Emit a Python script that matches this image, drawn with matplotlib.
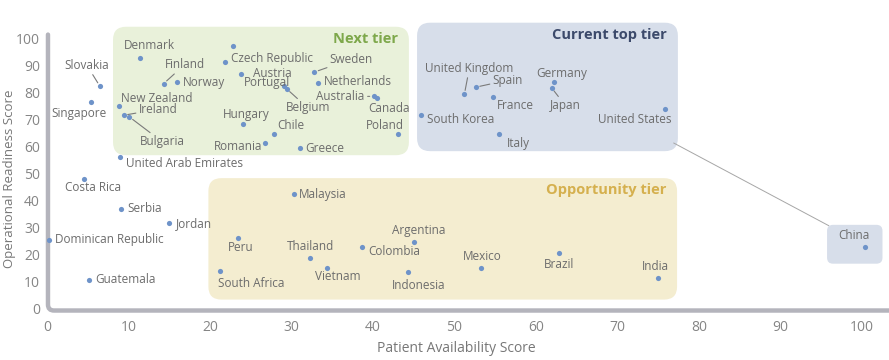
import matplotlib.pyplot as plt
from matplotlib.patches import FancyBboxPatch, PathPatch
from matplotlib.path import Path

plt.rcParams['font.family'] = ['Open Sans', 'DejaVu Sans']

# Data
countries = [
    "Slovakia", "Singapore", "Denmark", "Finland", "Norway", "New Zealand",
    "Ireland", "Bulgaria", "United Arab Emirates", "Czech Republic", "",
    "Austria", "Portugal", "Belgium", "Sweden", "Netherlands", "Australia",
    "Canada", "Hungary", "Chile", "Romania", "Greece", "Poland",
    "United Kingdom", "Spain", "France", "Germany", "Japan", "South Korea",
    "Italy", "United States", "Costa Rica", "Serbia", "Jordan",
    "Dominican Republic", "Guatemala", "Malaysia", "Peru", "South Africa",
    "Thailand", "Vietnam", "Colombia", "Argentina", "Indonesia", "Mexico",
    "Brazil", "India", "China",
]
patient = [
    6.5, 5.4, 11.4, 14.3, 16.0, 8.8,
    9.4, 10.1, 9.0, 21.8, 22.8,
    23.8, 29.1, 29.4, 32.8, 33.3, 40.1,
    40.5, 24.1, 27.8, 26.8, 31.0, 43.1,
    51.2, 52.6, 54.7, 62.2, 61.9, 45.9,
    55.4, 75.8, 4.5, 9.1, 15.0,
    0.3, 5.1, 30.3, 23.4, 21.2,
    32.3, 34.3, 38.7, 45.0, 44.3, 53.3,
    62.8, 74.9, 100.4,
]
readiness = [
    82.3, 76.5, 92.9, 83.3, 84.0, 75.0,
    71.6, 71.0, 56.0, 91.3, 97.4,
    86.9, 82.3, 81.4, 87.6, 83.5, 78.6,
    78.0, 68.5, 64.6, 61.5, 59.3, 64.6,
    79.3, 82.0, 78.3, 83.9, 81.8, 71.6,
    64.5, 74.1, 48.0, 36.8, 31.6,
    25.5, 10.7, 42.3, 26.3, 13.8,
    18.8, 15.1, 22.9, 24.8, 13.4, 15.1,
    20.5, 11.2, 22.9,
]

# tier boxes: name, x0, x1, y0, y1
tiers = [
    ("Next tier", 8.1, 44.4, 56.8, 104.4),
    ("Current top tier", 45.4, 77.4, 58.3, 105.9),
    ("Opportunity tier", 19.8, 77.3, 3.3, 48.3),
]
china_box = (95.7, 102.5, 16.6, 31.0)

# label layout: dx, dy (pixels), alignment, leader line
label_pos = {
    "Slovakia": (-13, 21, "center", True),
    "Singapore": (-12, -11, "center", False),
    "Denmark": (10, 12, "center", False),
    "Finland": (21, 19, "center", True),
    "Norway": (5, -1, "left", False),
    "New Zealand": (2, 7.5, "left", False),
    "Ireland": (15, 6, "left", True),
    "Bulgaria": (33, -25, "center", True),
    "United Arab Emirates": (6, -6, "left", False),
    "Czech Republic": (6, 4, "left", False),
    "Austria": (12, 0, "left", False),
    "Portugal": (-17, 4, "center", False),
    "Belgium": (21, -19, "center", True),
    "Sweden": (37, 13, "center", True),
    "Netherlands": (5, 2, "left", False),
    "Australia": (-9, 0, "right", True),
    "Canada": (12, -11, "center", False),
    "Hungary": (3, 9, "center", False),
    "Chile": (17, 9, "center", False),
    "Romania": (-3, -4, "right", False),
    "Greece": (6, 0, "left", False),
    "Poland": (-13, 9, "center", False),
    "United Kingdom": (5, 26, "center", True),
    "Spain": (32, 7, "center", True),
    "France": (23, -8, "center", False),
    "Germany": (8, 9, "center", False),
    "Japan": (14, -18, "center", True),
    "South Korea": (6, -4, "left", False),
    "Italy": (20, -9, "center", False),
    "United States": (-30, -11, "center", False),
    "Costa Rica": (9, -9, "center", False),
    "Serbia": (6, 1, "left", False),
    "Jordan": (7, 0, "left", False),
    "Dominican Republic": (6, 0, "left", False),
    "Guatemala": (7, 0, "left", False),
    "Malaysia": (5, 0, "left", False),
    "Peru": (3, -10, "center", False),
    "South Africa": (31, -12, "center", False),
    "Thailand": (0, 11, "center", False),
    "Vietnam": (11, -9, "center", False),
    "Colombia": (6, -5, "left", False),
    "Argentina": (5, 11, "center", False),
    "Indonesia": (11, -13, "center", False),
    "Mexico": (1, 11, "center", False),
    "Brazil": (0, -11, "center", False),
    "India": (-2, 12, "center", False),
    "China": (-11, 11, "center", False),
}

tier_colors = {
    "Next tier": ("#e9f1da", "#7ea84b"),
    "Current top tier": ("#d7deea", "#3c4a6b"),
    "Opportunity tier": ("#f4edd0", "#d5b04e"),
}

dot_color = "#6e93c9"
text_gray = "#6c6c6c"

fig = plt.figure(figsize=(8.89, 3.6), dpi=100)
ax = fig.add_axes([47 / 889, 1 - 312 / 360, 842 / 889, 292 / 360])
ax.set_xlim(0, 103.3)
ax.set_ylim(-1.3, 106.9)

# px -> data scale (x units per px, y units per px)
ux = 1 / 8.15
uy = 1 / 2.70
aspect = uy / ux

for name, x0, x1, y0, y1 in tiers:
    face, title_c = tier_colors[name]
    box = FancyBboxPatch((x0, y0), x1 - x0, y1 - y0,
                         boxstyle="round,pad=0,rounding_size=%f" % (13 * ux),
                         mutation_aspect=aspect, fc=face, ec="none", zorder=0)
    ax.add_patch(box)
    ax.text(x1 - 11 * ux, y1 - 12 * uy, name, ha="right", va="center",
            fontsize=10.5, fontweight="bold", color=title_c, zorder=2)

cx0, cx1, cy0, cy1 = china_box
ax.add_patch(FancyBboxPatch((cx0, cy0), cx1 - cx0, cy1 - cy0,
                            boxstyle="round,pad=0,rounding_size=%f" % (6 * ux),
                            mutation_aspect=aspect, fc="#d7deea", ec="none",
                            zorder=0, clip_on=False))
# connector from top tier box to China
ax.plot([76.9, cx0 + 0.2], [61.3, cy1 - 0.3], color="#a6a6a6", lw=0.7, zorder=1)

ax.scatter(patient, readiness, s=14, color=dot_color, zorder=3, linewidths=0)

for name, x, y in zip(countries, patient, readiness):
    if not name:
        continue
    dx, dy, ha, leader = label_pos[name]
    arrow = None
    if leader:
        arrow = dict(arrowstyle="-", color="#7a7a7a", lw=0.8,
                     shrinkA=0, shrinkB=3)
    ax.annotate(name, (x, y), xytext=(dx, dy), textcoords="offset pixels",
                ha=ha, va="center", fontsize=8.5, color=text_gray,
                arrowprops=arrow, zorder=4)

# custom L-shaped axis with a rounded corner
r_x, r_y = 6 * ux, 6 * uy
sx, sy = 0.12, -0.75
verts = [(sx, 101.5), (sx, sy + r_y), (sx, sy), (sx + r_x, sy), (103.3, sy)]
codes = [Path.MOVETO, Path.LINETO, Path.CURVE3, Path.CURVE3, Path.LINETO]
ax.add_patch(PathPatch(Path(verts, codes), fc="none", ec="#b4b4bc", lw=3.2,
                       capstyle="round", clip_on=False, zorder=1))

for s in ax.spines.values():
    s.set_visible(False)

ax.set_xticks(range(0, 101, 10))
ax.set_yticks(range(0, 101, 10))
ax.tick_params(length=0, labelsize=10, labelcolor="#858585")
ax.tick_params(axis="y", pad=5)
ax.tick_params(axis="x", pad=6)
ax.set_xlabel("Patient Availability Score", fontsize=10, color="#777777")
ax.set_ylabel("Operational Readiness Score", fontsize=9.5, color="#777777")
ax.xaxis.set_label_coords(0.486, -0.098)
ax.yaxis.set_label_coords(-0.037, 0.455)

fig.savefig("out.png", dpi=100)
